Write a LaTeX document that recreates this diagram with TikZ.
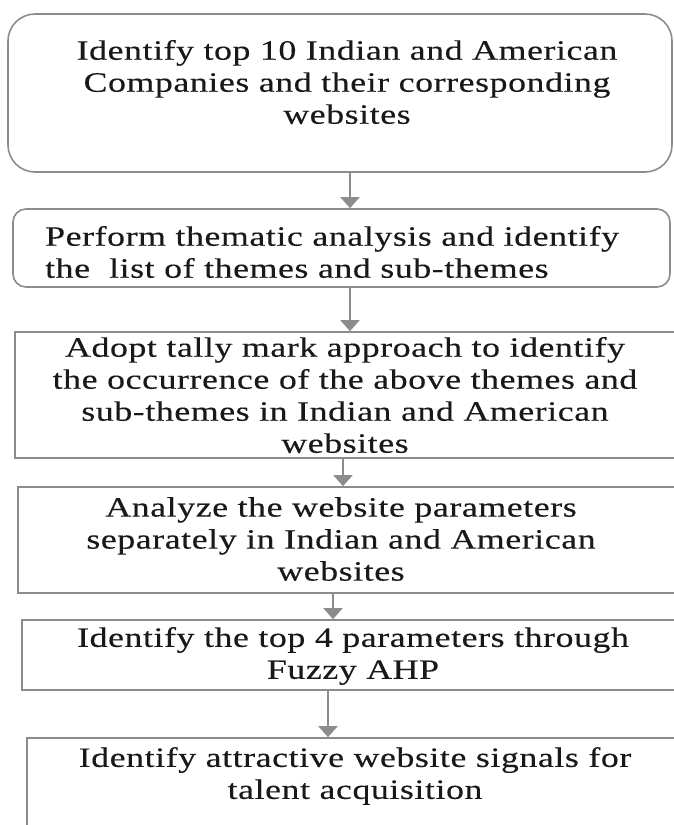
\documentclass[tikz,border=0pt]{standalone}
\usepackage{fontspec}
\setmainfont{Liberation Serif}[FakeStretch=1.28,LetterSpace=2,FakeBold=0.3]
\usetikzlibrary{arrows.meta}
\definecolor{edge}{RGB}{140,140,140}
\definecolor{ink}{RGB}{25,25,25}
\tikzset{
  box/.style={draw=edge, line width=1.6pt, inner sep=0pt, fill=none},
  label/.style={text=ink, font=\fontsize{28}{32}\selectfont, inner sep=0pt},
  flow/.style={draw=edge, line width=1.8pt, -{Triangle[width=19pt,length=11pt]}}
}
\begin{document}
\begin{tikzpicture}[x=1pt,y=-1pt]
\useasboundingbox (0,0) rectangle (674,825);
\clip (0,0) rectangle (674,825);

% process boxes (the lower ones run past the right and bottom edges)
\node[box, rounded corners=27pt, minimum width=664pt, minimum height=158pt] (b1) at (340,93) {};
\node[box, rounded corners=13pt, minimum width=657pt, minimum height=78pt] (b2) at (341.5,248) {};
\node[box, minimum width=690pt, minimum height=126pt] (b3) at (360,395) {};
\node[box, minimum width=690pt, minimum height=106pt] (b4) at (363,540) {};
\node[box, minimum width=690pt, minimum height=70pt] (b5) at (367,655) {};
\node[box, minimum width=690pt, minimum height=140pt] (b6) at (372,808) {};

% texts
\node[label, align=center] (t1) at (347,82) {Identify top 10 Indian and American\\Companies and their corresponding\\websites};
\node[label, align=left, anchor=west] (t2) at (45,252) {Perform thematic analysis and identify\\the\ \ list of themes and sub-themes};
\node[label, align=center] (t3) at (345,395) {Adopt tally mark approach to identify\\the occurrence of the above themes and\\sub-themes in Indian and American\\websites};
\node[label, align=center] (t4) at (341,539) {Analyze the website parameters\\separately in Indian and American\\websites};
\node[label, align=center] (t5) at (353,656) {Identify the top 4 parameters through\\Fuzzy AHP};
\node[label, align=center] (t6) at (355,776) {Identify attractive website signals for\\talent acquisition};

% connector positions
\coordinate (x1) at (350,0);
\coordinate (x2) at (350,0);
\coordinate (x3) at (343,0);
\coordinate (x4) at (333,0);
\coordinate (x5) at (328,0);

\draw[flow] (b1.south -| x1) -- (b2.north -| x1);
\draw[flow] (b2.south -| x2) -- (b3.north -| x2);
\draw[flow] (b3.south -| x3) -- (b4.north -| x3);
\draw[flow] (b4.south -| x4) -- (b5.north -| x4);
\draw[flow] (b5.south -| x5) -- (b6.north -| x5);
\end{tikzpicture}
\end{document}
